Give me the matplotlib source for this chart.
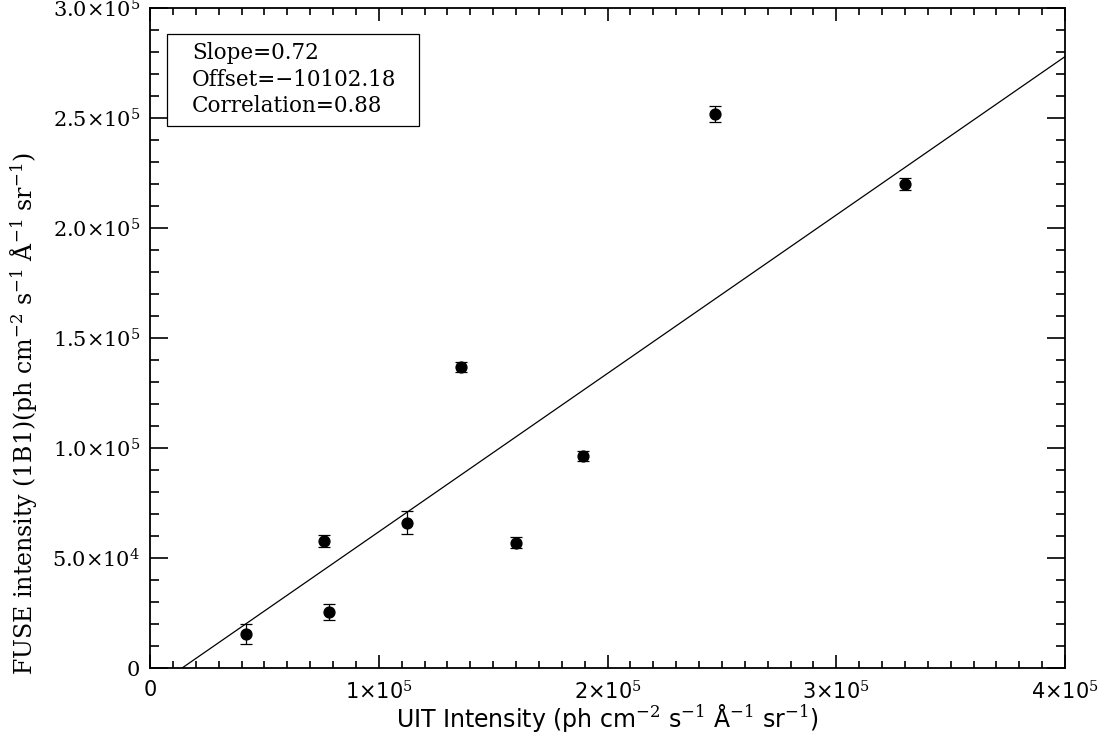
import numpy as np
import matplotlib
matplotlib.use('Agg')
import matplotlib.pyplot as plt
from matplotlib.ticker import MultipleLocator, FixedLocator
from matplotlib.patches import Rectangle

# UIT vs FUSE intensities
uit = [41900, 76100, 78400, 112500, 136000, 160100, 189200, 247000, 330000]
fuse = [15500, 57700, 25500, 66000, 136700, 57000, 96400, 251800, 220000]
fuse_err = [4500, 2700, 3600, 5300, 2300, 2500, 2100, 3500, 2700]

slope = 0.72
offset = -10102.18
corr = 0.88

x_ticks = [0, 1e5, 2e5, 3e5, 4e5]
x_ticklabels = ['0', r'1×10$^{5}$', r'2×10$^{5}$', r'3×10$^{5}$', r'4×10$^{5}$']
y_ticks = [0, 5e4, 1e5, 1.5e5, 2e5, 2.5e5, 3e5]
y_ticklabels = ['0', r'5.0×10$^{4}$', r'1.0×10$^{5}$', r'1.5×10$^{5}$',
                r'2.0×10$^{5}$', r'2.5×10$^{5}$', r'3.0×10$^{5}$']

plt.rcParams['mathtext.fontset'] = 'dejavuserif'
serif = ['DejaVu Serif']
sans = ['DejaVu Sans']

fig = plt.figure(figsize=(11.07, 7.40), dpi=100)
ax = fig.add_axes([150 / 1107, 72 / 740, 915 / 1107, 660 / 740])

# fit line
xl = np.array([0, 4e5])
ax.plot(xl, slope * xl + offset, color='black', lw=0.9)

ax.errorbar(uit, fuse, yerr=fuse_err, fmt='o', color='black', ms=7.8,
            elinewidth=0.9, capsize=4.5, capthick=0.9)

ax.set_xlim(0, 4e5)
ax.set_ylim(0, 3e5)

ax.xaxis.set_major_locator(FixedLocator(x_ticks))
ax.xaxis.set_minor_locator(MultipleLocator(1e4))
ax.yaxis.set_major_locator(FixedLocator(y_ticks))
ax.yaxis.set_minor_locator(MultipleLocator(1e4))
ax.set_xticklabels(x_ticklabels, family=sans, fontsize=15)
ax.set_yticklabels(y_ticklabels, family=serif, fontsize=15)

ax.tick_params(axis='both', which='both', direction='in', top=True, right=True, width=1.2)
ax.tick_params(axis='x', which='major', length=9.5, pad=9)
ax.tick_params(axis='x', which='minor', length=4.7)
ax.tick_params(axis='y', which='major', length=13, pad=7)
ax.tick_params(axis='y', which='minor', length=6.5)
for s in ax.spines.values():
    s.set_linewidth(1.3)

ax.set_xlabel(r'UIT Intensity (ph cm$^{-2}$ s$^{-1}$ Å$^{-1}$ sr$^{-1}$)',
              family=sans, fontsize=17)
ax.set_ylabel(r'FUSE intensity (1B1)(ph cm$^{-2}$ s$^{-1}$ Å$^{-1}$ sr$^{-1}$)',
              family=serif, fontsize=17)
ax.xaxis.set_label_coords(0.5, -0.052)
ax.yaxis.set_label_coords(-0.12, 0.385)

# stats box
ax.add_patch(Rectangle((0.0186, 0.821), 0.2754, 0.1396, transform=ax.transAxes,
                       fc='white', ec='black', lw=0.9, zorder=3))
txt = 'Slope=%.2f\nOffset=%.2f\nCorrelation=%.2f' % (slope, offset, corr)
txt = txt.replace('-', '\u2212')
ax.text(0.046, 0.948, txt, transform=ax.transAxes, family=serif, fontsize=15.5,
        va='top', ha='left', linespacing=1.25, zorder=4)

fig.savefig('out.png', dpi=100)
